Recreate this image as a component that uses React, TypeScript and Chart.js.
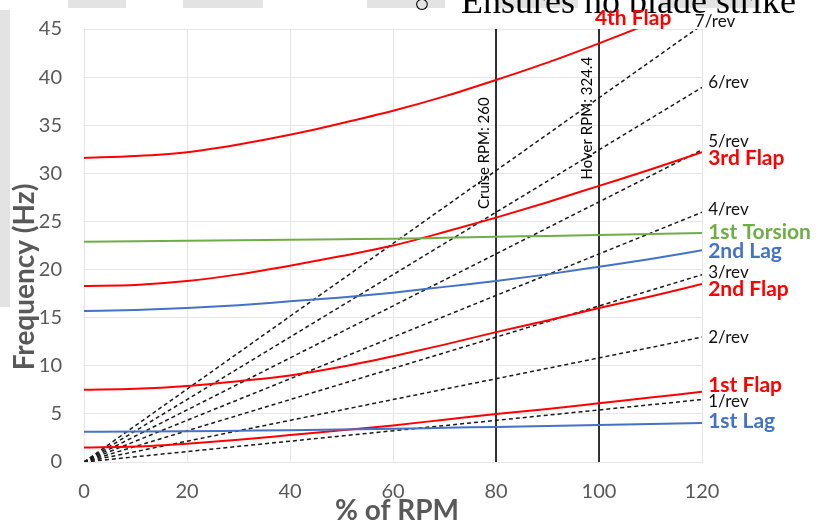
import { useEffect, useRef } from "react";
import { Chart, registerables } from "chart.js";
Chart.register(...registerables);

// ---- data ----
const rpmPct = [0, 10, 20, 30, 40, 50, 60, 70, 80, 90, 100, 110, 120];
const flap1 = [1.5, 1.6, 1.9, 2.3, 2.8, 3.3, 3.8, 4.4, 5.0, 5.5, 6.1, 6.7, 7.3];
const flap2 = [7.5, 7.6, 7.9, 8.4, 9.0, 9.9, 11.0, 12.2, 13.5, 14.7, 16.0, 17.2, 18.5];
const flap3 = [18.3, 18.4, 18.8, 19.5, 20.4, 21.4, 22.5, 23.9, 25.4, 27.0, 28.7, 30.4, 32.2];
const flap4 = [31.6, 31.8, 32.2, 33.0, 34.0, 35.2, 36.5, 38.0, 39.7, 41.5, 43.5, 45.6, 47.8];
const lag1 = [3.15, 3.17, 3.2, 3.25, 3.3, 3.37, 3.45, 3.55, 3.65, 3.75, 3.85, 3.95, 4.05];
const lag2 = [15.7, 15.8, 16.0, 16.3, 16.7, 17.1, 17.6, 18.2, 18.8, 19.5, 20.3, 21.1, 22.0];
const torsion1 = [22.9, 22.95, 23.0, 23.05, 23.1, 23.15, 23.2, 23.3, 23.4, 23.5, 23.6, 23.7, 23.8];

const revX = [0, 120];
const revNames = ["1/rev", "2/rev", "3/rev", "4/rev", "5/rev", "6/rev", "7/rev"];
const revEnd = [6.49, 12.98, 19.46, 25.95, 32.44, 38.93, 45.42];

const cruiseX = 80;
const hoverX = 100;
const vSpan = [0, 45];
const cruiseLabel = "Cruise RPM: 260";
const hoverLabel = "Hover RPM: 324.4";

const xTicks = [0, 20, 40, 60, 80, 100, 120];
const yTicksMax = 45;

// text labels at right of lines
const labelText = ["4th Flap", "7/rev", "6/rev", "5/rev", "3rd Flap", "4/rev", "1st Torsion", "2nd Lag", "3/rev", "2nd Flap", "2/rev", "1st Flap", "1/rev", "1st Lag"];
const labelX = [99.2, 118.6, 121.2, 121.2, 121.2, 121.2, 121.2, 121.2, 121.2, 121.2, 121.2, 121.2, 121.2, 121.2];
const labelY = [46.1, 45.8, 39.4, 33.3, 31.6, 26.2, 23.9, 21.9, 19.7, 18.0, 12.9, 8.0, 6.3, 4.2];

const RED = "#ff0000";
const BLUE = "#4472c4";
const GREEN = "#70ad47";
const BLACK = "#111111";
const labelColor = [RED, BLACK, BLACK, BLACK, RED, BLACK, GREEN, BLUE, BLACK, RED, BLACK, RED, BLACK, BLUE];

const FONT = "Lato, 'Liberation Sans', sans-serif";

function curve(label: string, ys: number[], color: string) {
  return {
    label,
    data: rpmPct.map((x, i) => ({ x, y: ys[i] })),
    borderColor: color,
    backgroundColor: color,
    borderWidth: 2,
    pointRadius: 0,
    cubicInterpolationMode: "monotone" as const,
    fill: false,
  };
}

export default function App() {
  const ref = useRef<HTMLCanvasElement | null>(null);
  useEffect(() => {
    document.body.style.margin = "0";
    const canvas = ref.current!;
    const datasets: any[] = [
      curve("1st Lag", lag1, BLUE),
      curve("1st Flap", flap1, RED),
      curve("2nd Flap", flap2, RED),
      curve("2nd Lag", lag2, BLUE),
      curve("1st Torsion", torsion1, GREEN),
      curve("3rd Flap", flap3, RED),
      curve("4th Flap", flap4, RED),
    ];
    revNames.forEach((n, i) => {
      datasets.push({
        label: n,
        data: revX.map((x, j) => ({ x, y: j === 0 ? 0 : revEnd[i] })),
        borderColor: "#1a1a1a",
        borderWidth: 1.5,
        borderDash: [4, 3],
        pointRadius: 0,
        tension: 0,
        fill: false,
      });
    });
    datasets.push({
      label: cruiseLabel,
      data: vSpan.map((y) => ({ x: cruiseX, y })),
      borderColor: "#000",
      borderWidth: 1.6,
      pointRadius: 0,
    });
    datasets.push({
      label: hoverLabel,
      data: vSpan.map((y) => ({ x: hoverX, y })),
      borderColor: "#000",
      borderWidth: 1.6,
      pointRadius: 0,
    });

    const pagePlugin = {
      id: "page",
      beforeDraw(chart: any) {
        const ctx = chart.ctx;
        ctx.save();
        ctx.fillStyle = "#fff";
        ctx.fillRect(0, 0, chart.width, chart.height);
        ctx.fillStyle = "#e3e3e3";
        ctx.fillRect(68, 0, 58, 8);
        ctx.fillRect(183, 0, 80, 8);
        ctx.fillRect(367, 0, 78, 8);
        ctx.fillRect(498, 0, 80, 8);
        ctx.fillRect(660, 0, 100, 8);
        ctx.fillRect(0, 10, 10, 297);
        ctx.fillStyle = "#000";
        ctx.textBaseline = "alphabetic";
        ctx.textAlign = "left";
        ctx.font = "26px 'Liberation Serif', serif";
        ctx.fillText("\u25CB", 414, 12);
        ctx.font = "36px 'Liberation Serif', serif";
        ctx.fillText("Ensures no blade strike", 461, 13);
        ctx.restore();
      },
      afterDraw(chart: any) {
        const ctx = chart.ctx;
        const xs = chart.scales.x;
        const ys = chart.scales.y;
        ctx.save();
        labelText.forEach((t, i) => {
          const bold = labelColor[i] !== BLACK;
          ctx.font = bold ? `bold 21px ${FONT}` : `17px ${FONT}`;
          ctx.fillStyle = labelColor[i];
          ctx.textAlign = "left";
          ctx.textBaseline = "middle";
          ctx.fillText(t, xs.getPixelForValue(labelX[i]), ys.getPixelForValue(labelY[i]));
        });
        ctx.font = `15px ${FONT}`;
        ctx.fillStyle = "#000";
        const vlab = (x: number, topY: number, text: string) => {
          ctx.save();
          ctx.translate(xs.getPixelForValue(x) - 4, ys.getPixelForValue(topY));
          ctx.rotate(-Math.PI / 2);
          ctx.textAlign = "right";
          ctx.textBaseline = "bottom";
          ctx.fillText(text, 0, 0);
          ctx.restore();
        };
        vlab(cruiseX, 37.9, cruiseLabel);
        vlab(hoverX, 42.1, hoverLabel);
        ctx.fillStyle = "#595959";
        ctx.font = `bold 28px ${FONT}`;
        ctx.textAlign = "center";
        ctx.textBaseline = "middle";
        ctx.fillText("% of RPM", 397, 511);
        ctx.save();
        ctx.translate(25, 277);
        ctx.rotate(-Math.PI / 2);
        ctx.fillText("Frequency (Hz)", 0, 0);
        ctx.restore();
        ctx.restore();
      },
    };

    const chart = new Chart(canvas, {
      type: "line",
      data: { datasets },
      options: {
        animation: false,
        responsive: false,
        layout: { padding: { top: 29, right: 130, left: 0, bottom: 0 } },
        plugins: { legend: { display: false }, tooltip: { enabled: false } },
        scales: {
          x: {
            type: "linear",
            min: xTicks[0],
            max: xTicks[xTicks.length - 1],
            afterFit: (s: any) => { s.height = 63; },
            afterBuildTicks: (s: any) => { s.ticks = xTicks.map((v) => ({ value: v })); },
            ticks: { color: "#595959", font: { family: FONT, size: 20 }, padding: 18, maxRotation: 0 },
            grid: { color: "#e6e6e6", drawTicks: false, lineWidth: 1 },
            border: { color: "#e6e6e6" },
          },
          y: {
            type: "linear",
            min: 0,
            max: yTicksMax,
            afterFit: (s: any) => { s.width = 84; s.paddingTop = 0; s.paddingBottom = 0; },
            ticks: { stepSize: 5, color: "#595959", font: { family: FONT, size: 20 }, padding: 22 },
            grid: { color: "#e6e6e6", drawTicks: false, lineWidth: 1 },
            border: { color: "#e6e6e6" },
          },
        },
      },
      plugins: [pagePlugin],
    });
    return () => chart.destroy();
  }, []);
  return (
    <div style={{ position: "relative", width: 832, height: 525 }}>
      <canvas ref={ref} width={832} height={525} />
    </div>
  );
}
